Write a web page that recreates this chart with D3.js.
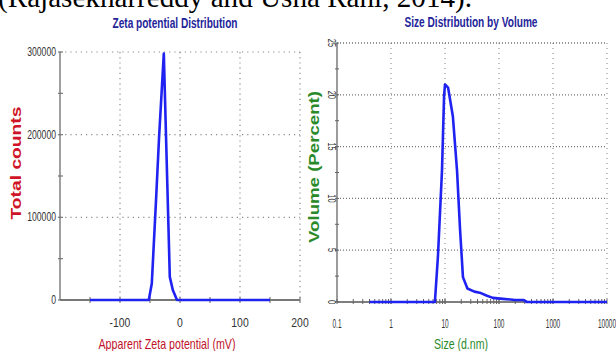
<!DOCTYPE html>
<html>
<head>
<meta charset="utf-8">
<script src="https://cdn.jsdelivr.net/npm/d3@7"></script>
<style>
  html, body { margin: 0; padding: 0; background: #fff; }
  svg { display: block; }
</style>
</head>
<body>
<div id="chart"></div>
<script>
// zeta potential distribution (mV vs total counts)
const zetaMv = [-150, -52, -47, -40, -35, -27, -22, -17, -12, -5, 150];
const zetaCounts = [0, 0, 20000, 120000, 195000, 298000, 163000, 28000, 12000, 0, 0];
const zetaXTicks = [-100, 0, 100, 200];
const zetaYTicks = [0, 100000, 200000, 300000];

// size distribution by volume (d.nm vs percent)
const sizeNm = [0.4, 6.5, 7.4, 8.8, 9.6, 10, 11.4, 14, 16.7, 19, 21.5, 26, 35, 44, 60, 77, 118, 200, 280, 330, 10000];
const sizePct = [0, 0, 4.4, 12.7, 19.8, 21, 20.7, 17.9, 12.7, 7, 2.4, 1.3, 1.0, 0.9, 0.6, 0.4, 0.3, 0.2, 0.2, 0, 0];
const sizeXTicks = [0.1, 1, 10, 100, 1000, 10000];
const sizeYTicks = [0, 5, 10, 15, 20, 25];

const W = 616;
const H = 351;
const sans = "'Liberation Sans', Arial, sans-serif";
const lineBlue = '#1f22f0';
const gridGrey = '#8a8a8a';

const svg = d3.select('#chart').append('svg')
  .attr('width', W)
  .attr('height', H);

// caption fragment cut at the top, as in the source figure
svg.append('text')
  .attr('x', -2)
  .attr('y', 7)
  .attr('textLength', 474)
  .attr('lengthAdjust', 'spacingAndGlyphs')
  .style('font-family', "'Liberation Serif', 'Times New Roman', serif")
  .style('font-size', '30px')
  .attr('fill', '#000')
  .text('(Rajasekharreddy and Usha Rani, 2014).');

// condensed label helper: squeeze horizontally like the original narrow font
const condensed = (sel, sx) => sel
  .style('font-family', sans)
  .attr('fill', '#333')
  .attr('transform', function () { return `${d3.select(this).attr('transform')} scale(${sx},1)`; });

// ---------- left panel: zeta potential ----------
const x1 = d3.scaleLinear().domain([-200, 200]).range([60, 300]);
const y1 = d3.scaleLinear().domain([0, 300000]).range([300, 52]);
const left = svg.append('g');

// dotted grid
left.selectAll('.gx').data(zetaXTicks).join('line')
  .attr('x1', (d) => x1(d)).attr('x2', (d) => x1(d))
  .attr('y1', y1(300000)).attr('y2', y1(0))
  .attr('stroke', gridGrey).attr('stroke-width', 1.2)
  .attr('stroke-dasharray', '1.2,4');
left.selectAll('.gy').data(zetaYTicks.filter((d) => d > 0)).join('line')
  .attr('x1', x1(-200)).attr('x2', x1(200))
  .attr('y1', (d) => y1(d)).attr('y2', (d) => y1(d))
  .attr('stroke', gridGrey).attr('stroke-width', 1.2)
  .attr('stroke-dasharray', '1.2,4');

// axes lines
left.append('line')
  .attr('x1', x1(-200)).attr('x2', x1(-200))
  .attr('y1', y1(300000)).attr('y2', y1(0))
  .attr('stroke', '#777').attr('stroke-width', 1.4);
left.append('line')
  .attr('x1', x1(-200)).attr('x2', x1(200))
  .attr('y1', y1(0)).attr('y2', y1(0))
  .attr('stroke', '#777').attr('stroke-width', 2);

// tick marks
left.selectAll('.tx').data(d3.range(-150, 201, 50)).join('line')
  .attr('x1', (d) => x1(d)).attr('x2', (d) => x1(d))
  .attr('y1', y1(0) - 3).attr('y2', y1(0) + 3)
  .attr('stroke', '#777').attr('stroke-width', 1.2);
left.selectAll('.ty').data(d3.range(0, 300001, 50000)).join('line')
  .attr('x1', x1(-200) - 2).attr('x2', x1(-200) + 3)
  .attr('y1', (d) => y1(d)).attr('y2', (d) => y1(d))
  .attr('stroke', '#777').attr('stroke-width', 1.2);

// tick labels
left.selectAll('.lx').data(zetaXTicks).join('text')
  .attr('transform', (d) => `translate(${x1(d)},327)`)
  .attr('text-anchor', 'middle')
  .style('font-size', '13px')
  .call(condensed, 0.8)
  .text((d) => d);
left.selectAll('.ly').data(zetaYTicks).join('text')
  .attr('transform', (d) => `translate(56,${y1(d) + 4})`)
  .attr('text-anchor', 'end')
  .style('font-size', '12px')
  .call(condensed, 0.72)
  .text((d) => d);

// data line
const zetaLine = d3.line()
  .x((d, i) => x1(zetaMv[i]))
  .y((d) => y1(d));
left.append('path')
  .datum(zetaCounts)
  .attr('fill', 'none')
  .attr('stroke', lineBlue)
  .attr('stroke-width', 2.6)
  .attr('stroke-linejoin', 'round')
  .attr('d', zetaLine);

// titles
left.append('text')
  .attr('x', 175).attr('y', 28)
  .attr('text-anchor', 'middle')
  .attr('textLength', 125).attr('lengthAdjust', 'spacingAndGlyphs')
  .style('font-family', sans).style('font-size', '14px').style('font-weight', 'bold')
  .attr('fill', '#24249a')
  .text('Zeta potential Distribution');
left.append('text')
  .attr('x', 167).attr('y', 349)
  .attr('text-anchor', 'middle')
  .attr('textLength', 137).attr('lengthAdjust', 'spacingAndGlyphs')
  .style('font-family', sans).style('font-size', '15px')
  .attr('fill', '#c0122a')
  .text('Apparent Zeta potential (mV)');
left.append('text')
  .attr('transform', 'translate(21,163) rotate(-90)')
  .attr('text-anchor', 'middle')
  .attr('textLength', 113).attr('lengthAdjust', 'spacingAndGlyphs')
  .style('font-family', sans)
  .style('font-size', '15px').style('font-weight', 'bold')
  .attr('fill', '#d01428')
  .text('Total counts');

// ---------- right panel: size by volume ----------
const x2 = d3.scaleLog().domain([0.1, 10000]).range([337, 607]);
const y2 = d3.scaleLinear().domain([0, 25]).range([302, 43]);
const right = svg.append('g');

right.selectAll('.gx').data(sizeXTicks.filter((d) => d > 0.1)).join('line')
  .attr('x1', (d) => x2(d)).attr('x2', (d) => x2(d))
  .attr('y1', y2(25)).attr('y2', y2(0))
  .attr('stroke', gridGrey).attr('stroke-width', 1.1)
  .attr('stroke-dasharray', '1,4');
right.selectAll('.gy').data(sizeYTicks.filter((d) => d > 0)).join('line')
  .attr('x1', x2(0.1)).attr('x2', x2(10000))
  .attr('y1', (d) => y2(d)).attr('y2', (d) => y2(d))
  .attr('stroke', '#777').attr('stroke-width', 1.3)
  .attr('stroke-dasharray', '1,2');

right.append('line')
  .attr('x1', x2(0.1)).attr('x2', x2(0.1))
  .attr('y1', y2(25)).attr('y2', y2(0))
  .attr('stroke', '#666').attr('stroke-width', 1.3);
right.append('line')
  .attr('x1', x2(0.1)).attr('x2', x2(10000))
  .attr('y1', y2(0)).attr('y2', y2(0))
  .attr('stroke', '#555').attr('stroke-width', 1.3);

// log minor ticks
const minor = [];
[0.1, 1, 10, 100, 1000].forEach((dec) => {
  for (let k = 1; k <= 10; k += 1) minor.push(dec * k);
});
right.selectAll('.tx').data(minor).join('line')
  .attr('x1', (d) => x2(d)).attr('x2', (d) => x2(d))
  .attr('y1', y2(0) - 3).attr('y2', y2(0) + 2)
  .attr('stroke', '#666').attr('stroke-width', 1);
right.selectAll('.ty').data(d3.range(0, 25.1, 2.5)).join('line')
  .attr('x1', x2(0.1) - 2).attr('x2', x2(0.1) + 2)
  .attr('y1', (d) => y2(d)).attr('y2', (d) => y2(d))
  .attr('stroke', '#666').attr('stroke-width', 1);

// tick labels (tall, condensed as in the original)
right.selectAll('.lx').data(sizeXTicks).join('text')
  .attr('transform', (d) => `translate(${x2(d)},328)`)
  .attr('text-anchor', 'middle')
  .style('font-size', '13px')
  .call(condensed, 0.5)
  .text((d) => d);
right.selectAll('.ly').data(sizeYTicks).join('text')
  .attr('transform', (d) => `translate(${x2(0.1) - 9},${y2(d)}) rotate(90)`)
  .attr('text-anchor', 'middle')
  .style('font-size', '10px')
  .call(condensed, 0.75)
  .text((d) => d);

const sizeLine = d3.line()
  .x((d, i) => x2(sizeNm[i]))
  .y((d) => y2(d));
right.append('path')
  .datum(sizePct)
  .attr('fill', 'none')
  .attr('stroke', lineBlue)
  .attr('stroke-width', 2.6)
  .attr('stroke-linejoin', 'round')
  .attr('d', sizeLine);

right.append('text')
  .attr('x', 471).attr('y', 27)
  .attr('text-anchor', 'middle')
  .attr('textLength', 133).attr('lengthAdjust', 'spacingAndGlyphs')
  .style('font-family', sans).style('font-size', '14px').style('font-weight', 'bold')
  .attr('fill', '#24249a')
  .text('Size Distribution by Volume');
right.append('text')
  .attr('x', 461).attr('y', 349)
  .attr('text-anchor', 'middle')
  .attr('textLength', 54).attr('lengthAdjust', 'spacingAndGlyphs')
  .style('font-family', sans).style('font-size', '15px')
  .attr('fill', '#2a8a2a')
  .text('Size (d.nm)');
right.append('text')
  .attr('transform', 'translate(319,167) rotate(-90)')
  .attr('text-anchor', 'middle')
  .attr('textLength', 152).attr('lengthAdjust', 'spacingAndGlyphs')
  .style('font-family', sans)
  .style('font-size', '15px').style('font-weight', 'bold')
  .attr('fill', '#2a8a2a')
  .text('Volume (Percent)');
</script>
</body>
</html>
